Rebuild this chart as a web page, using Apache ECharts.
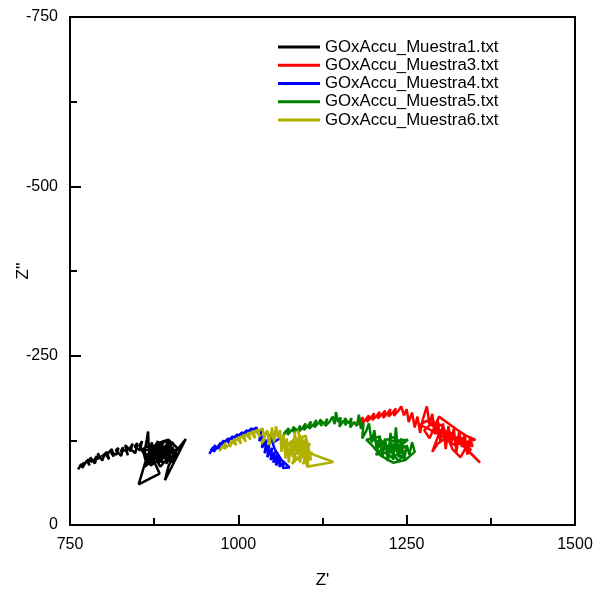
<!DOCTYPE html>
<html>
<head>
<meta charset="utf-8">
<script src="https://cdn.jsdelivr.net/npm/echarts@6/dist/echarts.min.js"></script>
<style>html,body{margin:0;padding:0;background:#fff;}#c{width:597px;height:590px;}</style>
</head>
<body>
<div id="c"></div>
<script>
const seriesNames = ["GOxAccu_Muestra1.txt","GOxAccu_Muestra3.txt","GOxAccu_Muestra4.txt","GOxAccu_Muestra5.txt","GOxAccu_Muestra6.txt"];
const seriesColors = ["#000000","#ff0000","#0000ff","#008000","#b0b000"];
const xTicks = [750,1000,1250,1500];
const yTicks = [0,-250,-500,-750];

const muestra1 = [[762,-82],[767,-90],[764,-86],[771,-92],[768,-84],[775,-95],[779,-88],[776,-97],[783,-93],[780,-100],[787,-91],[790,-102],[786,-96],[794,-99],[791,-106],[798,-95],[801,-104],[797,-101],[805,-108],[808,-97],[804,-103],[812,-112],[815,-101],[811,-107],[819,-104],[822,-114],[818,-110],[826,-102],[829,-115],[825,-108],[833,-111],[836,-103],[832,-118],[840,-109],[843,-120],[839,-113],[847,-106],[850,-121],[846,-116],[854,-110],[857,-124],[853,-117],
[860,-105],[864,-126],[866,-138],[867,-112],[872,-122],[869,-100],[876,-116],[874,-94],[880,-124],[883,-102],[878,-110],[887,-120],[885,-92],[891,-114],[889,-98],[895,-125],[898,-104],[893,-90],[902,-116],[905,-100],[899,-112],[908,-106],[903,-92],[896,-100],[884,-86],[874,-104],[862,-96],[858,-112],[868,-118],[879,-104],[890,-124],[901,-120],[892,-108],[881,-96],[870,-88],[864,-100],[852,-60],[883,-76],[873,-98],[863,-90],[878,-120],[896,-126],[909,-114],[896,-86],[891,-66],[922,-127],[904,-104],[889,-92],[869,-108],[883,-114],[861,-86],[877,-100],[897,-108],[882,-92],[866,-116],[891,-102],[873,-110],[899,-96],[885,-120],[871,-92],[859,-110],[895,-114],[879,-98],[904,-122],[887,-106],[875,-118],[863,-100],[887,-112],[900,-92],[880,-108],[868,-94],[893,-118],[906,-110],[884,-100]];
const muestra3 = [[1176,-147],[1181,-155],[1178,-151],[1185,-159],[1183,-149],[1190,-157],[1194,-162],[1191,-152],[1198,-160],[1202,-165],[1199,-155],[1206,-162],[1210,-167],[1207,-157],[1214,-164],[1218,-169],[1215,-158],[1222,-166],[1226,-171],[1223,-160],[1230,-167],[1234,-172],[1231,-161],[1238,-169],[1242,-175],[1246,-162],[1250,-171],[1253,-152],[1258,-166],[1262,-144],[1266,-160],[1270,-136],[1274,-156],[1280,-175],[1284,-148],[1288,-164],[1292,-134],[1296,-156],[1300,-124],[1304,-150],[1308,-112],[1312,-146],[1316,-120],[1320,-142],[1324,-108],[1328,-138],[1332,-115],[1336,-134],[1340,-104],[1344,-128],[1348,-116],[1336,-122],[1320,-130],[1359,-92],[1316,-136],[1300,-140],[1288,-108],[1296,-120],[1310,-130],[1326,-124],[1340,-118],[1330,-100],[1318,-112],[1304,-146],[1290,-152],[1276,-140],[1284,-128],[1298,-160],[1312,-150],[1326,-140],[1338,-132],[1352,-126],[1322,-118],[1308,-126],[1294,-142],[1280,-154],[1270,-148],[1302,-132],[1332,-128],[1346,-110]];
const muestra4 = [[957,-105],[962,-114],[959,-110],[966,-118],[963,-108],[970,-116],[974,-122],[970,-112],[978,-125],[981,-116],[977,-120],[985,-128],[988,-118],[984,-124],[992,-131],[995,-121],[991,-127],[999,-134],[1002,-124],[998,-130],[1006,-137],[1009,-127],[1005,-133],[1013,-140],[1016,-129],[1012,-136],[1020,-143],[1023,-132],[1019,-139],[1027,-144],[1030,-134],[1026,-140],[1034,-138],[1031,-124],[1038,-132],[1035,-114],[1042,-126],[1039,-106],[1046,-120],[1043,-100],[1050,-114],[1048,-96],[1054,-108],[1052,-92],[1058,-104],[1056,-88],[1062,-100],[1061,-86],[1068,-94],[1066,-84],[1076,-85],[1064,-96],[1054,-112],[1048,-130],[1056,-138],[1062,-128],[1052,-122],[1044,-134]];
const muestra5 = [[1066,-131],[1071,-139],[1068,-135],[1075,-143],[1073,-133],[1080,-141],[1084,-136],[1081,-145],[1088,-139],[1092,-147],[1089,-137],[1096,-144],[1100,-150],[1097,-140],[1104,-147],[1108,-153],[1105,-142],[1112,-149],[1116,-155],[1113,-144],[1120,-152],[1124,-146],[1121,-156],[1128,-149],[1132,-157],[1129,-146],[1136,-153],[1140,-160],[1143,-149],[1145,-167],[1148,-152],[1152,-159],[1150,-145],[1156,-154],[1160,-147],[1158,-158],[1164,-150],[1168,-158],[1166,-144],[1172,-152],[1176,-146],[1179,-163],[1182,-142],[1186,-151],[1184,-128],[1190,-139],[1194,-150],[1198,-122],[1202,-140],[1206,-108],[1210,-132],[1214,-100],[1218,-128],[1222,-94],[1226,-136],[1230,-96],[1234,-144],[1238,-100],[1242,-128],[1246,-94],[1250,-118],[1254,-104],[1258,-122],[1262,-108],[1248,-96],[1230,-92],[1212,-102],[1200,-116],[1190,-126],[1208,-130],[1222,-112],[1236,-120],[1244,-108],[1226,-100],[1216,-124],[1232,-130],[1250,-112],[1238,-94],[1220,-118],[1204,-104],[1228,-108],[1240,-116],[1214,-112],[1196,-132],[1210,-120],[1234,-112],[1252,-126],[1224,-124],[1242,-100]];
const muestra6 = [[972,-109],[977,-117],[974,-113],[981,-121],[979,-112],[986,-118],[990,-124],[987,-115],[994,-127],[997,-118],[993,-122],[1001,-130],[1004,-120],[1000,-126],[1008,-133],[1011,-123],[1007,-129],[1015,-136],[1018,-126],[1014,-132],[1022,-139],[1025,-128],[1021,-134],[1029,-141],[1032,-130],[1028,-137],[1036,-143],[1039,-126],[1034,-120],[1043,-140],[1046,-118],[1050,-144],[1053,-122],[1056,-146],[1059,-128],[1062,-140],[1064,-108],[1067,-134],[1070,-98],[1072,-128],[1075,-92],[1078,-120],[1081,-100],[1084,-138],[1087,-104],[1089,-130],[1092,-92],[1095,-126],[1098,-100],[1101,-118],[1104,-86],[1090,-112],[1141,-93],[1102,-86],[1094,-132],[1080,-90],[1098,-110],[1110,-106],[1096,-90],[1106,-120],[1086,-120],[1094,-102],[1084,-112],[1100,-126],[1090,-96],[1076,-108],[1092,-118],[1104,-98],[1088,-140],[1097,-112],[1082,-126],[1070,-116],[1100,-132],[1108,-96],[1093,-108]];

const allData = [muestra1, muestra3, muestra4, muestra5, muestra6];
const FONT = 'Liberation Sans';

const chart = echarts.init(document.getElementById('c'), null, {renderer:'canvas'});
chart.setOption({
  animation: false,
  backgroundColor: '#fff',
  textStyle: {fontFamily: FONT},
  grid: {left: 70, right: 22, top: 17, bottom: 65, containLabel: false, outerBoundsMode: 'none',
         show: true, borderColor: '#000', borderWidth: 2, backgroundColor: 'transparent'},
  legend: {
    orient: 'vertical', left: 278, top: 38, padding: 0,
    itemWidth: 42, itemHeight: 3, itemGap: 0.25, icon: 'rect',
    textStyle: {fontFamily: FONT, fontSize: 16.8, color: '#000', lineHeight: 18},
    data: seriesNames
  },
  xAxis: {
    type: 'value', min: xTicks[0], max: xTicks[xTicks.length-1], interval: 250,
    name: "Z'", nameLocation: 'middle', nameGap: 47, nameMoveOverlap: false,
    nameTextStyle: {fontFamily: FONT, fontSize: 17, color: '#000'},
    axisLine: {show: true, lineStyle: {color: '#000', width: 2}},
    axisTick: {show: true, inside: true, length: 10, lineStyle: {color: '#000', width: 2}},
    minorTick: {show: true, splitNumber: 2, length: 7, lineStyle: {color: '#000', width: 2}},
    axisLabel: {fontFamily: FONT, fontSize: 16, color: '#000', margin: 12, showMinLabel: true, showMaxLabel: true,
                formatter: v => String(v)},
    splitLine: {show: false}
  },
  yAxis: {
    type: 'value', min: yTicks[yTicks.length-1], max: yTicks[0], interval: 250, inverse: true,
    name: "Z''", nameLocation: 'middle', nameGap: 38, nameRotate: 90, nameMoveOverlap: false,
    nameTextStyle: {fontFamily: FONT, fontSize: 17, color: '#000'},
    axisLine: {show: true, lineStyle: {color: '#000', width: 2}},
    axisTick: {show: true, inside: true, length: 11, lineStyle: {color: '#000', width: 2}},
    minorTick: {show: true, splitNumber: 2, length: 7, lineStyle: {color: '#000', width: 2}},
    axisLabel: {fontFamily: FONT, fontSize: 16, color: '#000', margin: 12, formatter: v => String(v)},
    splitLine: {show: false}
  },
  series: seriesNames.map((n, i) => ({
    name: n, type: 'line', data: allData[i], showSymbol: false, symbol: 'none',
    color: seriesColors[i],
    lineStyle: {color: seriesColors[i], width: 2.5},
    itemStyle: {color: seriesColors[i]},
    clip: true
  }))
});
</script>
</body>
</html>
